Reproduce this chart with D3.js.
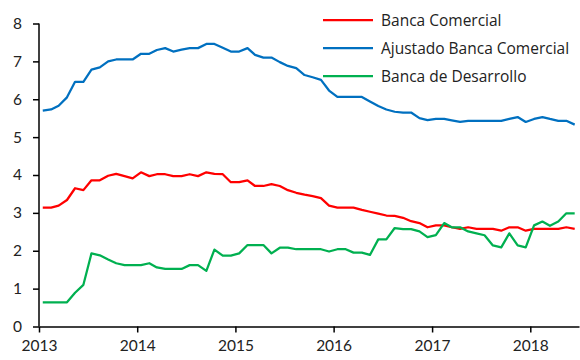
<!DOCTYPE html>
<html>
<head>
<meta charset="utf-8">
<script src="https://cdn.jsdelivr.net/npm/d3@7"></script>
<style>
  html, body { margin: 0; padding: 0; background: #fff; }
  svg text { font-family: Lato, "Open Sans", sans-serif; fill: #222; }
</style>
</head>
<body>
<svg id="chart" width="580" height="360"></svg>
<script>
// Monthly series, January 2013 to June 2018 (percent)
const bancaComercial = [
  3.14, 3.14, 3.19, 3.34, 3.65, 3.60, 3.86, 3.86, 3.98, 4.03, 3.97, 3.91,
  4.07, 3.97, 4.02, 4.02, 3.97, 3.97, 4.02, 3.97, 4.07, 4.03, 4.02, 3.81,
  3.81, 3.86, 3.71, 3.71, 3.76, 3.71, 3.60, 3.53, 3.48, 3.44, 3.39, 3.19,
  3.14, 3.14, 3.14, 3.08, 3.03, 2.98, 2.93, 2.92, 2.87, 2.78, 2.73, 2.62,
  2.67, 2.67, 2.62, 2.58, 2.62, 2.58, 2.58, 2.58, 2.53, 2.62, 2.62, 2.53,
  2.58, 2.58, 2.58, 2.58, 2.62, 2.58
];
const ajustadoBancaComercial = [
  5.70, 5.73, 5.83, 6.05, 6.46, 6.46, 6.78, 6.84, 7.00, 7.05, 7.05, 7.05,
  7.20, 7.20, 7.30, 7.35, 7.26, 7.31, 7.35, 7.35, 7.46, 7.46, 7.36, 7.26,
  7.26, 7.35, 7.17, 7.10, 7.10, 6.98, 6.88, 6.82, 6.64, 6.58, 6.51, 6.23,
  6.06, 6.06, 6.06, 6.06, 5.94, 5.82, 5.73, 5.67, 5.65, 5.65, 5.50, 5.45,
  5.48, 5.48, 5.44, 5.40, 5.43, 5.43, 5.43, 5.43, 5.43, 5.48, 5.53, 5.40,
  5.48, 5.53, 5.48, 5.43, 5.43, 5.33
];
const bancaDesarrollo = [
  0.64, 0.64, 0.64, 0.64, 0.89, 1.10, 1.93, 1.88, 1.77, 1.67, 1.62, 1.62,
  1.62, 1.67, 1.56, 1.52, 1.52, 1.52, 1.62, 1.62, 1.47, 2.03, 1.87, 1.87,
  1.93, 2.15, 2.15, 2.15, 1.93, 2.08, 2.08, 2.04, 2.04, 2.04, 2.04, 1.98,
  2.04, 2.04, 1.95, 1.95, 1.89, 2.30, 2.30, 2.60, 2.57, 2.57, 2.51, 2.36,
  2.41, 2.73, 2.62, 2.62, 2.51, 2.46, 2.41, 2.14, 2.09, 2.46, 2.14, 2.09,
  2.67, 2.77, 2.66, 2.77, 2.99, 2.99
];
const seriesNames = ["Banca Comercial", "Ajustado Banca Comercial", "Banca de Desarrollo"];
const seriesColors = ["#FF0000", "#0070C0", "#00B050"];
const yearLabels = ["2013", "2014", "2015", "2016", "2017", "2018"];
const yTicks = [0, 1, 2, 3, 4, 5, 6, 7, 8];

// Each observation sits in the middle of its month
const months = d3.timeMonth.range(new Date(2013, 0, 1), new Date(2018, 6, 1))
  .map(d => new Date(d.getFullYear(), d.getMonth(), 15));

const svg = d3.select("#chart");

const x = d3.scaleTime()
  .domain([new Date(2013, 0, 1), new Date(2018, 6, 1)])
  .range([39, 579]);
const y = d3.scaleLinear().domain([0, 8]).range([326.5, 23.5]);

// Y axis
const yAxis = svg.append("g")
  .attr("transform", "translate(39,0)")
  .call(d3.axisLeft(y).tickValues(yTicks).tickFormat(d3.format("d")).tickSize(6).tickPadding(11));
// X axis
const xAxis = svg.append("g")
  .attr("transform", `translate(0,${y(0)})`)
  .call(d3.axisBottom(x)
    .tickValues(yearLabels.map(s => new Date(+s, 0, 1)))
    .tickFormat(d3.timeFormat("%Y"))
    .tickSize(6).tickPadding(7)
    .tickSizeOuter(0));

[yAxis, xAxis].forEach(g => {
  g.select(".domain").attr("stroke", "#000").attr("stroke-width", 1.5);
  g.selectAll(".tick line").attr("stroke", "#000").attr("stroke-width", 1.5);
  g.selectAll(".tick text").attr("font-size", 15.5).attr("fill", "#222")
    .style("font-family", "Lato, 'Open Sans', sans-serif");
});
yAxis.select(".domain").attr("d", `M0,${y(8)}V${y(0)}`);

const allSeries = [bancaComercial, ajustadoBancaComercial, bancaDesarrollo];
const line = d3.line()
  .x((d, i) => x(months[i]))
  .y(d => y(d));

svg.append("g").selectAll("path")
  .data(allSeries)
  .join("path")
  .attr("d", d => line(d))
  .attr("fill", "none")
  .attr("stroke", (d, i) => seriesColors[i])
  .attr("stroke-width", 2.25)
  .attr("stroke-linejoin", "round");

// Legend
const legend = svg.append("g");
const legendRows = [20, 48, 76];
seriesNames.forEach((name, i) => {
  const g = legend.append("g").attr("transform", `translate(323,${legendRows[i]})`);
  g.append("line").attr("x1", 0).attr("x2", 50).attr("y1", 0).attr("y2", 0)
    .attr("stroke", seriesColors[i]).attr("stroke-width", 2.25);
  g.append("text").attr("x", 58).attr("y", 5.5)
    .attr("font-size", 15.5)
    .style("font-family", "'Open Sans', Lato, sans-serif")
    .text(name);
});
</script>
</body>
</html>
